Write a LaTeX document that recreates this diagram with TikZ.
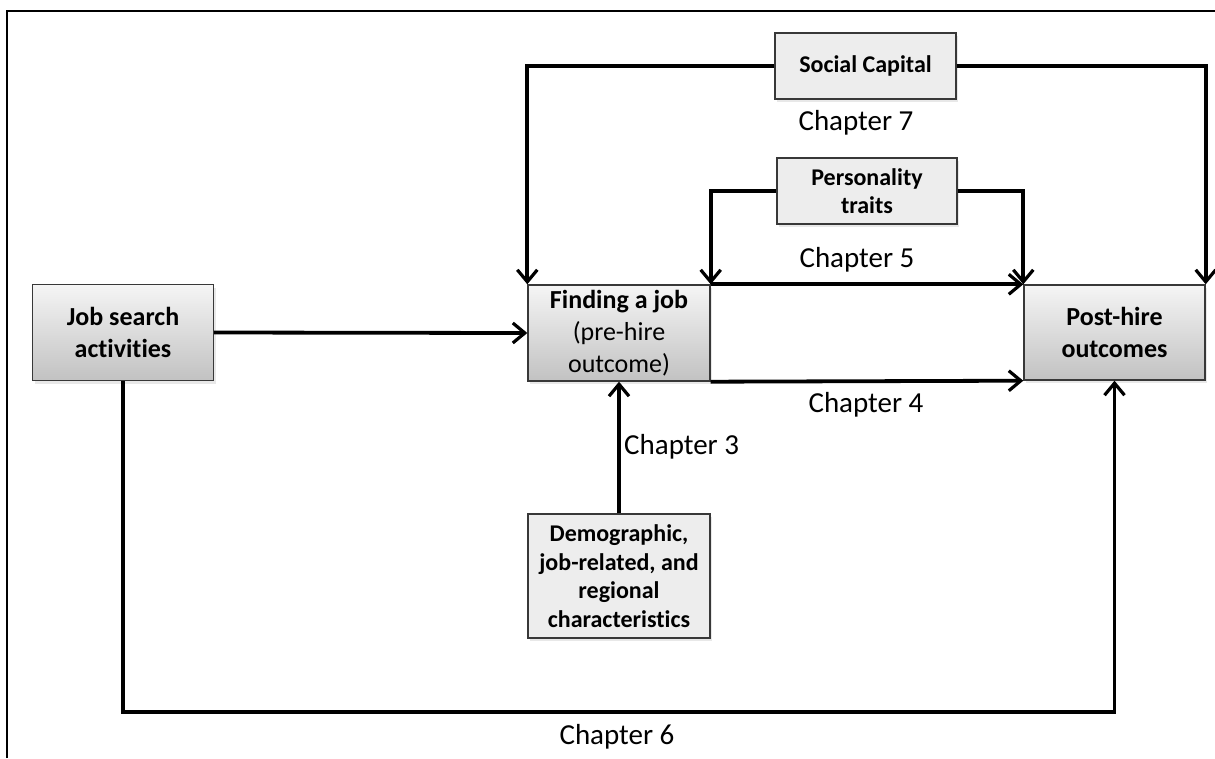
\documentclass[tikz,border=0pt]{standalone}
\usepackage{fontspec}
\setmainfont{Carlito}[Ligatures=NoCommon]
\usetikzlibrary{arrows.meta,shadows}
\definecolor{boxline}{HTML}{383838}
\definecolor{flatfill}{HTML}{EDEDED}
\begin{document}
\begin{tikzpicture}[x=1pt,y=-1pt,
  basebox/.style={draw=boxline,line width=1.4pt,align=center,inner sep=2pt,
    drop shadow={opacity=0.18,shadow xshift=2pt,shadow yshift=-3pt}},
  mainbox/.style={basebox,top color=gray!8,bottom color=gray!48,
    font=\fontsize{26}{32}\selectfont},
  sidebox/.style={basebox,fill=flatfill,font=\fontsize{24}{28.5}\selectfont\bfseries},
  conn/.style={line width=3.8pt,-{Straight Barb[length=12pt,width=20pt,line width=3.2pt]}},
  chap/.style={font=\fontsize{29}{34}\selectfont,inner sep=0pt}]
\useasboundingbox (0,0) rectangle (1215,758);
\fill[white] (0,0) rectangle (1215,758);
% outer frame (left and top edges)
\draw[line width=2.2pt] (7,758) -- (7,11) -- (1215,11);

% boxes
\node[mainbox,minimum width=181pt,minimum height=96pt] (job) at (123,332.5)
  {\bfseries Job search\\\bfseries activities};
\node[mainbox,minimum width=182pt,minimum height=96pt] (find) at (619,333)
  {\bfseries Finding a job\\(pre-hire\\outcome)};
\node[mainbox,minimum width=181pt,minimum height=95pt] (post) at (1114.5,332.5)
  {\bfseries Post-hire\\\bfseries outcomes};
\node[sidebox,minimum width=181pt,minimum height=66pt] (social) at (865.5,66)
  {Social Capital};
\node[sidebox,minimum width=180pt,minimum height=66pt] (pers) at (867,191)
  {Personality\\traits};
\node[sidebox,minimum width=182pt,minimum height=124pt] (demo) at (619,576)
  {Demographic,\\job-related, and\\regional\\characteristics};

% connectors
\draw[conn] (job.east) -- (find.west);
\draw[conn] (social.west) -| (find.north west);
\draw[conn] (social.east) -| (post.north east);
\draw[conn] (pers.west) -| (find.north east);
\draw[conn] (pers.east) -| (post.north west);
\draw[conn] (find.north east) -- (post.north west);
\draw[conn] (find.south east) -- (post.south west);
\draw[conn] (demo.north) -- (find.south);
\coordinate (bl) at (123,712);
\draw[conn] (job.south) -- (bl) -| (post.south);

% chapter labels
\node[chap] (c7) at (856,123) {Chapter 7};
\node[chap] (c5) at (857,260) {Chapter 5};
\node[chap] (c4) at (866,405) {Chapter 4};
\node[chap,anchor=west] (c3) at (624,447) {Chapter 3};
\node[chap] (c6) at (617,737) {Chapter 6};
\end{tikzpicture}
\end{document}
